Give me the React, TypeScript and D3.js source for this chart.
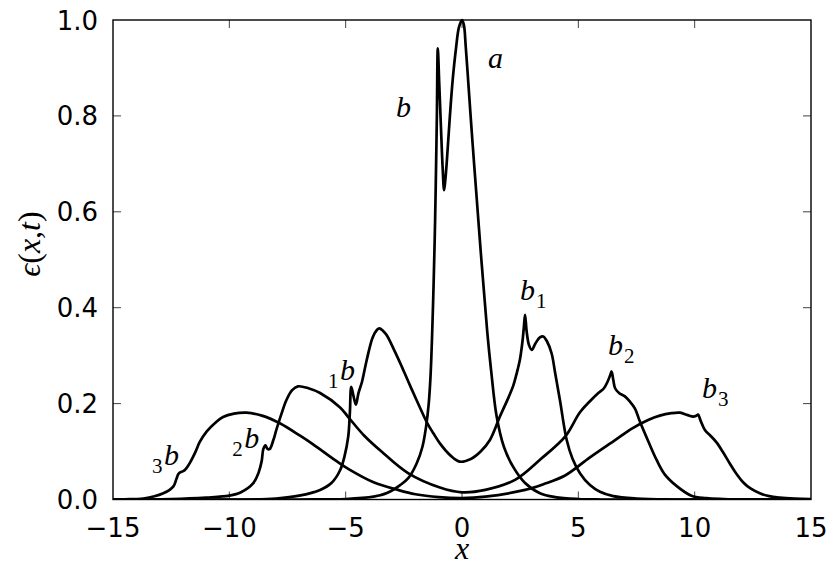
import React from 'react';
import * as d3 from 'd3';

type P = [number, number];

// central profile (labels a and b)
const curveAB: P[] = [
  [-15, 0], [-7, 0], [-5, 0.001], [-3.8, 0.006], [-3.2, 0.014], [-2.66, 0.03], [-2.3, 0.045],
  [-1.95, 0.075], [-1.7, 0.11], [-1.55, 0.15], [-1.43, 0.2], [-1.35, 0.26], [-1.28, 0.35],
  [-1.22, 0.45], [-1.17, 0.55], [-1.13, 0.65], [-1.08, 0.8], [-1.04, 0.941], [-0.98, 0.87],
  [-0.9, 0.77], [-0.83, 0.69], [-0.77, 0.645], [-0.72, 0.665], [-0.66, 0.7], [-0.52, 0.8],
  [-0.4, 0.875], [-0.26, 0.94], [-0.13, 0.985], [0, 1.0], [0.08, 0.99], [0.16, 0.945],
  [0.27, 0.87], [0.37, 0.8], [0.52, 0.7], [0.66, 0.61], [0.8, 0.52], [0.95, 0.43], [1.09, 0.347],
  [1.25, 0.27], [1.49, 0.173], [1.8, 0.11], [2.2, 0.068], [2.7, 0.035], [3.35, 0.013],
  [4, 0.005], [5, 0.001], [6, 0], [15, 0],
];

// first split profile (labels 1b and b1)
const curve1: P[] = [
  [-15, 0], [-9, 0], [-8, 0.002], [-7, 0.008], [-6.1, 0.02], [-5.6, 0.035], [-5.24, 0.061],
  [-5.05, 0.09], [-4.89, 0.131], [-4.82, 0.18], [-4.76, 0.235], [-4.66, 0.215], [-4.56, 0.198],
  [-4.45, 0.222], [-4.3, 0.245], [-4.1, 0.29], [-3.84, 0.338], [-3.65, 0.354], [-3.55, 0.357],
  [-3.4, 0.352], [-3.24, 0.343], [-2.9, 0.31], [-2.66, 0.285], [-2.3, 0.245], [-1.95, 0.207],
  [-1.5, 0.16], [-1.23, 0.138], [-0.95, 0.117], [-0.5, 0.092], [-0.1, 0.079], [0.4, 0.085],
  [0.8, 0.1], [1.2, 0.124], [1.63, 0.173], [2.0, 0.213], [2.2, 0.237], [2.35, 0.263],
  [2.49, 0.292], [2.6, 0.33], [2.66, 0.36], [2.71, 0.385], [2.78, 0.35], [2.88, 0.322],
  [3.0, 0.312], [3.15, 0.325], [3.35, 0.338], [3.49, 0.34], [3.65, 0.33], [3.85, 0.305],
  [4.0, 0.265], [4.21, 0.207], [4.5, 0.124], [4.75, 0.085], [5.07, 0.055], [5.5, 0.03],
  [5.93, 0.016], [6.5, 0.007], [7.5, 0.002], [9, 0], [15, 0],
];

// second split profile (labels 2b and b2)
const curve2: P[] = [
  [-15, 0], [-12.5, 0.001], [-11, 0.004], [-10, 0.008], [-9.5, 0.015], [-8.97, 0.034],
  [-8.75, 0.055], [-8.61, 0.08], [-8.54, 0.105], [-8.45, 0.113], [-8.37, 0.106], [-8.27, 0.105],
  [-8.1, 0.125], [-7.98, 0.145], [-7.75, 0.18], [-7.55, 0.207], [-7.3, 0.228], [-7.05, 0.236],
  [-6.6, 0.232], [-6.1, 0.222], [-5.24, 0.192], [-4.89, 0.172], [-4.2, 0.133], [-3.46, 0.1],
  [-2.32, 0.055], [-0.95, 0.025], [0, 0.015], [1, 0.02], [2.28, 0.041], [3.4, 0.085],
  [4.43, 0.131], [5.07, 0.182], [5.5, 0.205], [5.86, 0.222], [6.1, 0.232], [6.25, 0.245],
  [6.36, 0.258], [6.43, 0.267], [6.5, 0.25], [6.58, 0.232], [6.75, 0.222], [7.0, 0.215],
  [7.22, 0.204], [7.43, 0.19], [7.65, 0.162], [8.0, 0.122], [8.37, 0.082], [8.72, 0.052],
  [9.23, 0.028], [9.86, 0.008], [10.5, 0.003], [12, 0], [15, 0],
];

// third split profile (labels 3b and b3)
const curve3: P[] = [
  [-15, 0], [-14.5, 0.0005], [-13.7, 0.002], [-12.84, 0.013], [-12.41, 0.027], [-12.28, 0.042],
  [-12.19, 0.053], [-12.1, 0.057], [-11.98, 0.059], [-11.85, 0.065], [-11.69, 0.077],
  [-11.45, 0.1], [-11.27, 0.12], [-10.97, 0.142], [-10.6, 0.16], [-10.27, 0.172],
  [-9.8, 0.179], [-9.26, 0.181], [-8.6, 0.175], [-7.83, 0.159], [-6.96, 0.133], [-6.4, 0.115],
  [-5.39, 0.08], [-4.89, 0.064], [-3.8, 0.036], [-2.75, 0.02], [-2, 0.011], [-1, 0.005],
  [0, 0.003], [1, 0.006], [2.71, 0.02], [3.5, 0.032], [4.43, 0.05], [5.5, 0.088],
  [6.58, 0.124], [7.3, 0.148], [8.0, 0.166], [8.5, 0.175], [9.0, 0.18], [9.37, 0.181],
  [9.7, 0.176], [9.94, 0.173], [10.08, 0.175], [10.15, 0.177], [10.25, 0.165], [10.44, 0.145],
  [10.7, 0.132], [10.94, 0.119], [11.2, 0.1], [11.51, 0.075], [11.8, 0.053], [12.08, 0.036],
  [12.4, 0.023], [12.8, 0.013], [13.2, 0.007], [13.66, 0.004], [14.3, 0.002], [15, 0.001],
];

const allCurves: P[][] = [curveAB, curve1, curve2, curve3];

const xTicks = [-15, -10, -5, 0, 5, 10, 15];
const yTicks = [0, 0.2, 0.4, 0.6, 0.8, 1.0];

// annotation labels: base letter, optional sub/prescript, anchor in data coords
const labelText = ['a', 'b', 'b', 'b', 'b', 'b', 'b', 'b'];
const labelSub = ['', '', '1', '2', '3', '1', '2', '3'];
const labelPre = [false, false, false, false, false, true, true, true];
const labelX = [1.12, -2.84, 2.49, 6.27, 10.31, -5.76, -9.88, -13.32];
const labelY = [0.9, 0.798, 0.416, 0.301, 0.212, 0.249, 0.107, 0.072];

const fmt = (v: number) => (v < 0 ? '\u2212' + Math.abs(v) : String(v));

export default function App() {
  const W = 835, H = 572;
  const L = 113, R = 811, T = 20, B = 499.5;
  const x = d3.scaleLinear().domain([-15, 15]).range([L, R]);
  const y = d3.scaleLinear().domain([0, 1]).range([B, T]);
  const line = d3.line<P>().x(d => x(d[0])).y(d => y(d[1])).curve(d3.curveCatmullRom.alpha(0.5));
  const tickLen = 8;
  const sans = "'DejaVu Sans', sans-serif";
  const math = "'Liberation Serif', serif";

  return (
    <svg width={W} height={H} style={{ position: 'absolute', left: 0, top: 0, background: '#fff' }}>
      <rect x={0} y={0} width={W} height={H} fill="#fff" />
      <defs>
        <clipPath id="plotclip">
          <rect x={L} y={T - 2} width={R - L} height={B - T + 2} />
        </clipPath>
      </defs>
      {/* ticks */}
      {xTicks.slice(1, -1).map(t => (
        <g key={'xt' + t} stroke="#444" strokeWidth={1}>
          <line x1={x(t)} x2={x(t)} y1={B} y2={B - tickLen} />
          <line x1={x(t)} x2={x(t)} y1={T} y2={T + tickLen} />
        </g>
      ))}
      {yTicks.slice(1, -1).map(t => (
        <g key={'yt' + t} stroke="#444" strokeWidth={1}>
          <line x1={L} x2={L + tickLen} y1={y(t)} y2={y(t)} />
          <line x1={R} x2={R - tickLen} y1={y(t)} y2={y(t)} />
        </g>
      ))}
      {/* curves */}
      <g clipPath="url(#plotclip)">
        {allCurves.map((c, i) => (
          <path key={'c' + i} d={line(c) || ''} fill="none" stroke="#000" strokeWidth={2.7}
            strokeLinejoin="round" strokeLinecap="round" />
        ))}
      </g>
      {/* frame */}
      <rect x={L} y={T} width={R - L} height={B - T} fill="none" stroke="#000" strokeWidth={1.4} />
      {/* tick labels */}
      {xTicks.map(t => (
        <text key={'xl' + t} x={x(t)} y={537} textAnchor="middle" fontFamily={sans} fontSize={26} fill="#000">
          {fmt(t)}
        </text>
      ))}
      {yTicks.map(t => (
        <text key={'yl' + t} x={98} y={y(t) + 9.5} textAnchor="end" fontFamily={sans} fontSize={26} fill="#000">
          {t.toFixed(1)}
        </text>
      ))}
      {/* axis labels */}
      <text x={x(0)} y={559} textAnchor="middle" fontFamily={math} fontStyle="italic" fontSize={32}>x</text>
      <text transform={`translate(40,${244}) rotate(-90)`} textAnchor="middle" fontFamily={math} fontSize={32}>
        <tspan fontStyle="italic">{'\u03F5'}</tspan>
        <tspan>(</tspan>
        <tspan fontStyle="italic">x</tspan>
        <tspan>,</tspan>
        <tspan fontStyle="italic">t</tspan>
        <tspan>)</tspan>
      </text>
      {/* annotations */}
      {labelText.map((s, i) => {
        const px = x(labelX[i]);
        const py = y(labelY[i]);
        const sub = labelSub[i];
        if (!sub) {
          return (
            <text key={'lab' + i} x={px} y={py} fontFamily={math} fontStyle="italic" fontSize={30}>{s}</text>
          );
        }
        if (labelPre[i]) {
          return (
            <g key={'lab' + i}>
              <text x={px} y={py + 8} fontFamily={math} fontSize={21}>{sub}</text>
              <text x={px + 12} y={py} fontFamily={math} fontStyle="italic" fontSize={30}>{s}</text>
            </g>
          );
        }
        return (
          <g key={'lab' + i}>
            <text x={px} y={py} fontFamily={math} fontStyle="italic" fontSize={30}>{s}</text>
            <text x={px + 16} y={py + 8} fontFamily={math} fontSize={21}>{sub}</text>
          </g>
        );
      })}
    </svg>
  );
}
